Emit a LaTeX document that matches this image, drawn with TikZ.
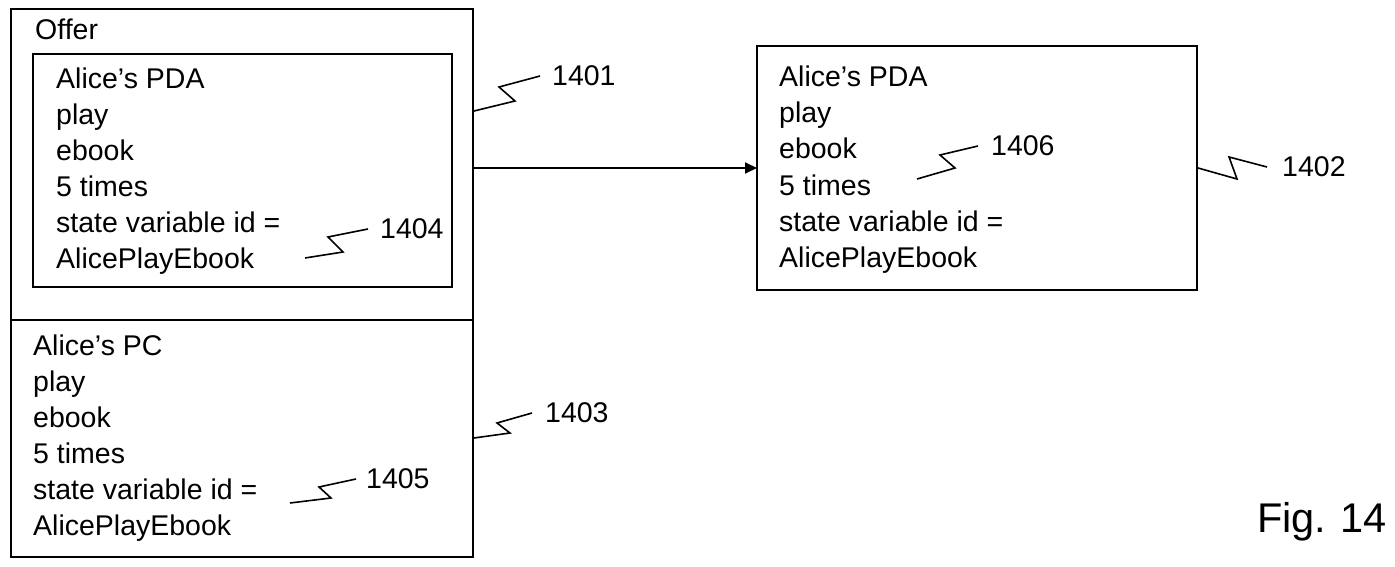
\documentclass[tikz,border=0pt]{standalone}
\usepackage{fontspec}
\setmainfont{Liberation Sans}
\usetikzlibrary{arrows.meta}
\begin{document}
\begin{tikzpicture}[x=1pt,y=-1pt,
  box/.style={draw,line width=1.8pt,inner sep=0pt,outer sep=0pt,anchor=north west},
  txt/.style={anchor=base west,inner sep=0pt,font=\fontsize{28.5}{34}\selectfont},
  num/.style={anchor=west,inner sep=0pt,font=\fontsize{28.5}{34}\selectfont},
  lead/.style={line width=1.6pt,line join=miter},
  conn/.style={line width=1.8pt,-{Triangle[length=12pt,width=11pt]}}
]
\useasboundingbox (0,0) rectangle (1395,567);
% boxes
\node[box,minimum width=462pt,minimum height=311pt] (offer) at (11,9) {};
\node[box,minimum width=462pt,minimum height=237pt] (pc) at (11,320) {};
\node[box,minimum width=419pt,minimum height=233pt] (pda) at (33,54) {};
\node[box,minimum width=440pt,minimum height=244pt] (pda2) at (757,46) {};
% texts
\node[txt] (offert) at (35,40) {Offer};
\node[txt] (a1) at (56,89) {Alice’s PDA};
\node[txt] (b1) at (33,355) {Alice’s PC};
\node[txt] (c1) at (779,87) {Alice’s PDA};
\foreach \t [count=\i from 2] in {play,ebook,5 times,state variable id =,AlicePlayEbook}{
  \node[txt] (a\i) at (56,{89+35.8*(\i-1)}) {\t};
  \node[txt] (b\i) at (33,{355+36*(\i-1)}) {\t};
  \node[txt] (c\i) at (779,{87+36*(\i-1)}) {\t};
}
% arrow
\draw[conn] (pda2.west -| offer.east) -- (pda2.west);
% labels
\node[num] (l1401) at (552,76) {1401};
\node[num] (l1404) at (380,229) {1404};
\node[num] (l1405) at (366,479) {1405};
\node[num] (l1403) at (545,413) {1403};
\node[num] (l1406) at (991,146) {1406};
\node[num] (l1402) at (1282,167) {1402};
\node[anchor=west,inner sep=0pt,font=\fontsize{41.5}{48}\selectfont] (fig) at (1257,522) {Fig.\kern-1pt{} 14};
% leader lines
\coordinate (s1401) at (474,111);
\coordinate (s1404) at (305,258);
\coordinate (s1405) at (290,503);
\coordinate (s1403) at (474,438);
\coordinate (s1406) at (917,179);
\coordinate (s1402) at (1198,168);
\draw[lead] (s1401) -- (515,101) -- (499,87) -- ([xshift=-12pt]l1401.west);
\draw[lead] (s1404) -- (343,252) -- (328,237) -- ([xshift=-12pt]l1404.west);
\draw[lead] (s1405) -- (331,498) -- (319,487) -- ([xshift=-10pt]l1405.west);
\draw[lead] (s1403) -- (510,433) -- (497,423) -- ([xshift=-13pt]l1403.west);
\draw[lead] (s1406) -- (955,168) -- (940,155) -- ([xshift=-13pt]l1406.west);
\draw[lead] (s1402) -- (1237,179) -- (1229,157) -- ([xshift=-15pt]l1402.west);
\end{tikzpicture}
\end{document}
